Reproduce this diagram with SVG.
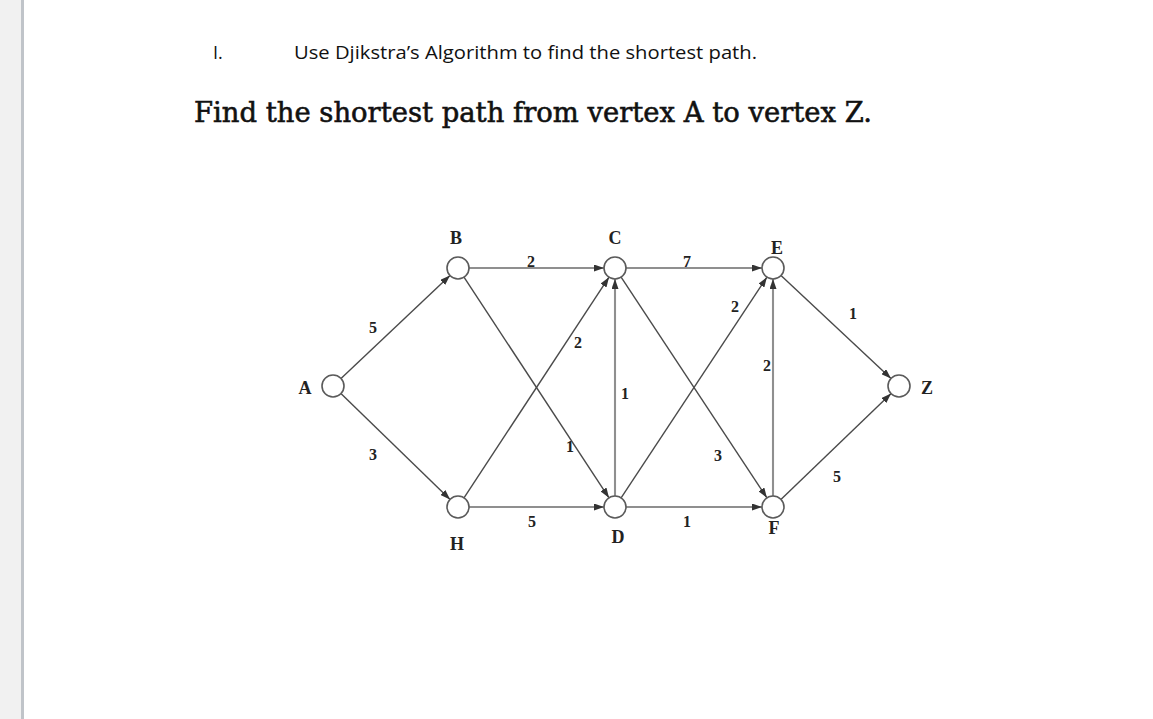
<svg xmlns="http://www.w3.org/2000/svg" width="1153" height="719" viewBox="0 0 1153 719">
<defs>
<style>
.ln{stroke:#4a4a4a;stroke-width:1.4;fill:none}
.hv{stroke:#8f8f8f;stroke-width:2.1;fill:none}
.nd{fill:#fff;stroke:#5a5a5a;stroke-width:1.6}
.nl{font-family:"Liberation Serif","Times New Roman",serif;font-weight:bold;font-size:18px;fill:#222;text-anchor:middle}
.el{font-family:"Liberation Serif","Times New Roman",serif;font-weight:bold;font-size:16px;fill:#222;text-anchor:middle}
</style>
<marker id="ah" markerUnits="userSpaceOnUse" markerWidth="10" markerHeight="7" refX="10" refY="3.5" orient="auto">
<path d="M0,0 L10,3.5 L0,7 z" fill="#333"/>
</marker>
</defs>
<rect x="0" y="0" width="1153" height="719" fill="#fff"/>
<rect x="0" y="0" width="21" height="719" fill="#f1f1f1"/>
<rect x="21" y="0" width="3" height="719" fill="#c0c4c9"/>
<text x="213" y="59" font-family="'Open Sans','Liberation Sans',sans-serif" font-size="18" fill="#111">I.</text>
<text x="294" y="59" font-family="'Open Sans','Liberation Sans',sans-serif" font-size="18" fill="#111" textLength="463" lengthAdjust="spacingAndGlyphs">Use Djikstra’s Algorithm to find the shortest path.</text>
<text x="194" y="122" font-family="'DejaVu Serif','Liberation Serif',serif" font-size="28" fill="#111" stroke="#111" stroke-width="0.6" textLength="678" lengthAdjust="spacingAndGlyphs">Find the shortest path from vertex A to vertex Z.</text>
<g id="connectors">
<line class="ln" x1="341" y1="378.5" x2="450" y2="275.5" marker-end="url(#ah)"/>
<line class="ln" x1="340.9" y1="393.6" x2="450.1" y2="499.4" marker-end="url(#ah)"/>
<line class="hv" x1="469" y1="268" x2="604" y2="268" marker-end="url(#ah)"/>
<line class="hv" x1="626" y1="268" x2="762" y2="268" marker-end="url(#ah)"/>
<line class="hv" x1="469" y1="507" x2="604" y2="507" marker-end="url(#ah)"/>
<line class="hv" x1="626" y1="507" x2="762" y2="507" marker-end="url(#ah)"/>
<line class="ln" x1="464" y1="277.2" x2="609" y2="497.8" marker-end="url(#ah)"/>
<line class="ln" x1="464" y1="497.8" x2="609" y2="277.2" marker-end="url(#ah)"/>
<line class="ln" x1="621.1" y1="277.2" x2="766.9" y2="497.8" marker-end="url(#ah)"/>
<line class="ln" x1="621.1" y1="497.8" x2="766.9" y2="277.2" marker-end="url(#ah)"/>
<line class="hv" x1="615" y1="496" x2="615" y2="279" marker-end="url(#ah)"/>
<line class="hv" x1="773" y1="496" x2="773" y2="279" marker-end="url(#ah)"/>
<line class="ln" x1="781" y1="275.5" x2="891" y2="378.5" marker-end="url(#ah)"/>
<line class="ln" x1="780.9" y1="499.4" x2="891.1" y2="393.6" marker-end="url(#ah)"/>
<text class="el" x="531" y="267">2</text>
<text class="el" x="687" y="267">7</text>
<text class="el" x="373" y="333">5</text>
<text class="el" x="578" y="348">2</text>
<text class="el" x="625" y="399">1</text>
<text class="el" x="735" y="312">2</text>
<text class="el" x="767" y="371">2</text>
<text class="el" x="853" y="319">1</text>
<text class="el" x="373" y="460">3</text>
<text class="el" x="570" y="452">1</text>
<text class="el" x="532" y="527">5</text>
<text class="el" x="718" y="461">3</text>
<text class="el" x="687" y="527">1</text>
<text class="el" x="837" y="482">5</text>
</g>
<g id="node-A"><circle class="nd" cx="333" cy="386" r="11"/><text class="nl" x="305" y="394">A</text></g>
<g id="node-B"><circle class="nd" cx="458" cy="268" r="11"/><text class="nl" x="456" y="244">B</text></g>
<g id="node-C"><circle class="nd" cx="615" cy="268" r="11"/><text class="nl" x="615" y="244">C</text></g>
<g id="node-E"><circle class="nd" cx="773" cy="268" r="11"/><text class="nl" x="777" y="254">E</text></g>
<g id="node-Z"><circle class="nd" cx="899" cy="386" r="11"/><text class="nl" x="927" y="394">Z</text></g>
<g id="node-H"><circle class="nd" cx="458" cy="507" r="11"/><text class="nl" x="457" y="550">H</text></g>
<g id="node-D"><circle class="nd" cx="615" cy="507" r="11"/><text class="nl" x="618" y="543">D</text></g>
<g id="node-F"><circle class="nd" cx="773" cy="507" r="11"/><text class="nl" x="774" y="534">F</text></g>
</svg>
